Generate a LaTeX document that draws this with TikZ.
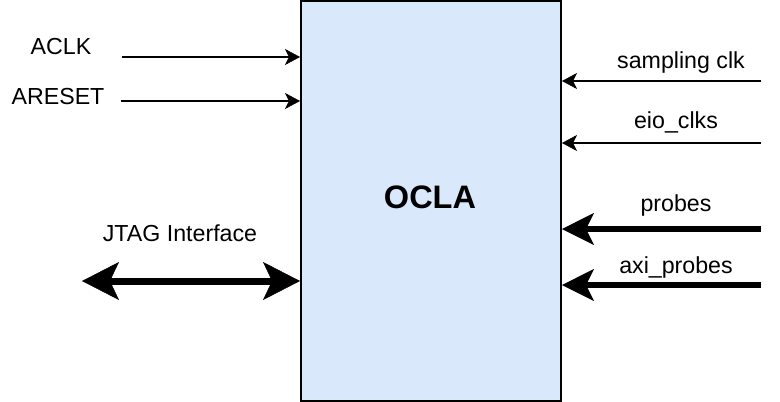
\documentclass[tikz,border=0pt]{standalone}
\usepackage{fontspec}
\setmainfont{Liberation Sans}
\usetikzlibrary{arrows.meta}
\definecolor{oclafill}{HTML}{DAE8FC}
\tikzset{
    lbl/.style={font=\fontsize{23.2}{28}\selectfont},
    thinsig/.style={line width=2pt,-{Stealth[length=15pt,width=16pt,inset=4pt,line width=0.5pt]}},
    thicksig/.style={line width=6pt,-{Stealth[length=32pt,width=32pt,inset=8pt,line width=0.5pt]}},
    bussig/.style={line width=7pt,{Stealth[length=37pt,width=38pt,inset=9pt,line width=0.5pt]}-{Stealth[length=37pt,width=38pt,inset=9pt,line width=0.5pt]}}
}
\begin{document}
\begin{tikzpicture}[x=1pt,y=-1pt]
    \useasboundingbox (0,0) rectangle (780,402);
    \node[draw,line width=2pt,fill=oclafill,minimum width=260pt,minimum height=400pt] (ocla) at (431,201) {};
    \node[font=\fontsize{32.5}{38}\selectfont\bfseries] (title) at (430,197) {OCLA};
    \node[lbl] (aclk) at (61,47) {ACLK};
    \node[lbl] (areset) at (58,97) {ARESET};
    \node[lbl] (jtag) at (180,233) {JTAG Interface};
    \node[lbl] (sclk) at (681,62) {sampling clk};
    \node[lbl] (eio) at (676,122) {eio\_clks};
    \node[lbl] (probes) at (676,205) {probes};
    \node[lbl] (axi) at (676,267) {axi\_probes};
    \coordinate (a1) at (122,57);
    \coordinate (a2) at (121,101);
    \coordinate (j1) at (82,281);
    \coordinate (s1) at (761,81);
    \coordinate (s2) at (761,143);
    \coordinate (p1) at (761,229);
    \coordinate (p2) at (761,285);
    \draw[thinsig] (a1) -- (a1 -| ocla.west);
    \draw[thinsig] (a2) -- (a2 -| ocla.west);
    \draw[bussig] (j1) -- (j1 -| ocla.west);
    \draw[thinsig] (s1) -- (s1 -| ocla.east);
    \draw[thinsig] (s2) -- (s2 -| ocla.east);
    \draw[thicksig] (p1) -- (p1 -| ocla.east);
    \draw[thicksig] (p2) -- (p2 -| ocla.east);
\end{tikzpicture}
\end{document}
